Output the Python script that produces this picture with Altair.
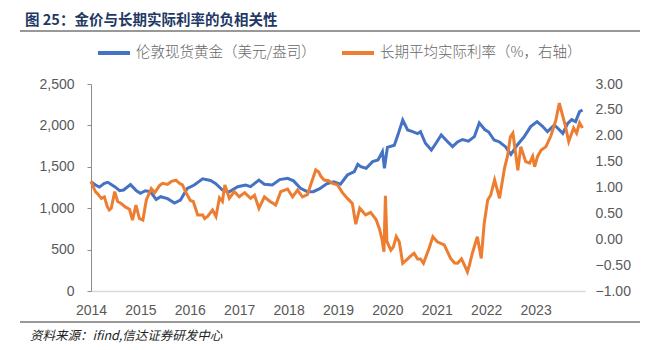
import altair as alt
import pandas as pd

# ---- data ----
gold_t = [2014.00, 2014.09, 2014.17, 2014.27, 2014.34, 2014.48, 2014.58, 2014.66, 2014.80, 2014.92,
          2015.00, 2015.10, 2015.20, 2015.32, 2015.41, 2015.55, 2015.69, 2015.81, 2015.95,
          2016.09, 2016.26, 2016.42, 2016.52, 2016.66, 2016.79, 2016.97,
          2017.13, 2017.23, 2017.40, 2017.51, 2017.67, 2017.82, 2017.98,
          2018.10, 2018.24, 2018.38, 2018.50, 2018.63, 2018.77, 2018.91,
          2019.05, 2019.19, 2019.33, 2019.40, 2019.46, 2019.57, 2019.70, 2019.81, 2019.90, 2019.94,
          2020.00, 2020.14, 2020.21, 2020.31, 2020.41, 2020.51, 2020.61, 2020.67, 2020.77, 2020.89, 2020.99,
          2021.09, 2021.22, 2021.32, 2021.42, 2021.52, 2021.64, 2021.76, 2021.86, 2021.97,
          2022.05, 2022.16, 2022.27, 2022.39, 2022.50, 2022.63, 2022.77, 2022.90,
          2023.03, 2023.14, 2023.24, 2023.38, 2023.46, 2023.55, 2023.65, 2023.73, 2023.81, 2023.89, 2023.95]
gold_v = [1320, 1280, 1255, 1300, 1313, 1260, 1211, 1220, 1285, 1210,
          1180, 1211, 1200, 1105, 1139, 1115, 1062, 1099, 1240,
          1280, 1355, 1335, 1300, 1220, 1195, 1260,
          1280, 1260, 1340, 1290, 1280, 1345, 1361,
          1330, 1240, 1200, 1200, 1235, 1295, 1320,
          1290, 1401, 1441, 1530, 1501, 1482, 1562, 1582, 1682, 1482,
          1735, 1760, 1880, 2065, 1944, 1924, 1900, 1924, 1784, 1703, 1790,
          1884, 1803, 1743, 1800, 1830, 1810, 1864, 2030, 1950,
          1920, 1824, 1800, 1743, 1650, 1763, 1864, 1985,
          2045, 1990, 1924, 2005, 1960, 1904, 2025, 2070, 2045, 2166, 2186]

rate_t = [2014.00, 2014.05, 2014.09, 2014.15, 2014.21, 2014.27, 2014.33, 2014.37, 2014.41, 2014.48,
          2014.54, 2014.61, 2014.70, 2014.78, 2014.84, 2014.91, 2014.98,
          2015.05, 2015.12, 2015.22, 2015.29, 2015.39, 2015.45, 2015.55, 2015.63, 2015.72, 2015.79, 2015.85, 2015.93,
          2016.01, 2016.07, 2016.16, 2016.26, 2016.30, 2016.36, 2016.46, 2016.53, 2016.60, 2016.66, 2016.71, 2016.80, 2016.90,
          2017.00, 2017.11, 2017.23, 2017.31, 2017.40, 2017.51, 2017.61, 2017.74, 2017.84, 2017.98,
          2018.08, 2018.18, 2018.28, 2018.38, 2018.48, 2018.55, 2018.61, 2018.65, 2018.72, 2018.81, 2018.89, 2018.99,
          2019.09, 2019.19, 2019.29, 2019.36, 2019.44, 2019.56, 2019.66, 2019.77, 2019.84, 2019.89, 2019.93, 2019.96, 2019.99,
          2020.07, 2020.12, 2020.18, 2020.24, 2020.31, 2020.41, 2020.45, 2020.54, 2020.61, 2020.67, 2020.73, 2020.85, 2020.92,
          2021.01, 2021.15, 2021.22, 2021.28, 2021.36, 2021.42, 2021.50, 2021.56, 2021.62, 2021.66, 2021.72, 2021.82, 2021.90, 2021.96,
          2022.03, 2022.09, 2022.17, 2022.27, 2022.37, 2022.43, 2022.49, 2022.54, 2022.59, 2022.64, 2022.70, 2022.80, 2022.88, 2022.94, 2022.98,
          2023.04, 2023.11, 2023.21, 2023.31, 2023.41, 2023.48, 2023.53, 2023.60, 2023.67, 2023.73, 2023.77, 2023.83, 2023.89, 2023.95]
rate_v = [1.12, 1.00, 0.92, 0.86, 0.79, 0.82, 0.63, 0.565, 0.60, 0.92,
          0.73, 0.69, 0.62, 0.58, 0.37, 0.66, 0.40,
          0.37, 0.76, 0.98, 0.90, 1.04, 1.08, 1.06, 1.12, 1.14, 1.08, 1.05, 0.89,
          0.75, 0.73, 0.47, 0.47, 0.40, 0.44, 0.565, 0.44, 0.80, 0.73, 1.05, 0.79, 0.92,
          0.82, 0.90, 0.79, 0.85, 0.60, 0.82, 0.74, 0.66, 0.92, 0.97,
          0.82, 0.95, 0.82, 0.86, 1.145, 1.34, 1.30, 1.22, 1.145, 1.13, 1.08, 1.05,
          0.90, 0.79, 0.69, 0.29, 0.60, 0.47, 0.52, 0.38, 0.20, 0.00, -0.24, 0.84, -0.04,
          -0.21, -0.15, 0.05, -0.05, -0.465, -0.38, -0.34, -0.27, -0.38, -0.38, -0.465, -0.16, 0.05,
          -0.05, -0.11, -0.25, -0.37, -0.46, -0.465, -0.38, -0.50, -0.63, -0.50, -0.27, 0.05, -0.37, 0.31,
          0.76, 0.85, 1.145, 0.79, 1.37, 1.60, 1.98, 2.05, 1.70, 1.33, 1.79, 1.50, 1.47, 1.60, 1.40,
          1.60, 1.72, 1.79, 2.00, 2.30, 2.63, 2.45, 2.20, 1.89, 2.05, 2.15, 2.05, 2.25, 2.15]

GOLD = "伦敦现货黄金（美元/盎司）"
RATE = "长期平均实际利率（%，右轴）"
TITLE = "图 25：金价与长期实际利率的负相关性"
SOURCE = "资料来源：ifind,信达证券研发中心"
x_ticks = [2014, 2015, 2016, 2017, 2018, 2019, 2020, 2021, 2022, 2023]
gold_ticks = [0, 500, 1000, 1500, 2000, 2500]
rate_ticks = [-1.0, -0.5, 0.0, 0.5, 1.0, 1.5, 2.0, 2.5, 3.0]

gold_df = pd.DataFrame({"t": gold_t, "v": gold_v, "s": GOLD})
rate_df = pd.DataFrame({"t": rate_t, "v": rate_v, "s": RATE})
one = pd.DataFrame({"k": [0]})

LATIN = "Liberation Sans"
CJK = "Noto Sans CJK SC"
GREY = "#595959"

color = alt.Color(
    "s:N",
    scale=alt.Scale(domain=[GOLD, RATE], range=["#4472C4", "#ED7D31"]),
    legend=alt.Legend(
        title=None, orient="none", legendX=5, legendY=-49, direction="horizontal",
        symbolType="stroke", symbolSize=1024, symbolStrokeWidth=4,
        labelFont=CJK, labelFontSize=14.5, labelFontWeight=300, labelColor="#666666",
        labelOffset=4, columnPadding=18, padding=0, labelLimit=400,
    ),
)

x = alt.X(
    "t:Q",
    scale=alt.Scale(domain=[2014, 2024], nice=False, zero=False),
    axis=alt.Axis(
        values=x_ticks, format="d", title=None, grid=False, ticks=False,
        domainColor="#D9D9D9", domainWidth=1.5, labelFlush=False, labelOverlap=False,
        labelPadding=12, labelFont=LATIN, labelFontSize=14, labelColor=GREY,
    ),
)

gold = alt.Chart(gold_df).mark_line(strokeWidth=3).encode(
    x=x,
    y=alt.Y(
        "v:Q",
        scale=alt.Scale(domain=[0, 2500], nice=False),
        axis=alt.Axis(
            values=gold_ticks, format=",.0f", orient="left", title=None, grid=False,
            domainColor="#8C8C8C", tickColor="#8C8C8C", tickSize=4, labelPadding=13,
            labelFont=LATIN, labelFontSize=14, labelColor=GREY,
        ),
    ),
    color=color,
)

rate = alt.Chart(rate_df).mark_line(strokeWidth=3).encode(
    x=x,
    y=alt.Y(
        "v:Q",
        scale=alt.Scale(domain=[-1, 3], nice=False, zero=False),
        axis=alt.Axis(
            values=rate_ticks, format=".2f", orient="right", title=None, grid=False,
            domain=False, ticks=False, labelPadding=10,
            labelFont=LATIN, labelFontSize=14, labelColor=GREY,
        ),
    ),
    color=color,
)

title = alt.Chart(one).mark_text(
    align="left", baseline="middle", font=CJK, fontWeight="bold", fontSize=14.5, color="#1F3864"
).encode(x=alt.value(-66), y=alt.value(-63), text=alt.value(TITLE))

source = alt.Chart(one).mark_text(
    align="left", baseline="middle", font=CJK, fontStyle="italic", fontSize=12.5, color="#222222"
).encode(x=alt.value(-61), y=alt.value(252), text=alt.value(SOURCE))

top_rule = alt.Chart(one).mark_rule(color="#333333", strokeWidth=1).encode(
    x=alt.value(-71), x2=alt.value(549), y=alt.value(-53)
)
bottom_rule = alt.Chart(one).mark_rule(color="#333333", strokeWidth=1).encode(
    x=alt.value(-71), x2=alt.value(549), y=alt.value(238)
)

chart = alt.layer(gold, rate, title, source, top_rule, bottom_rule).resolve_scale(
    y="independent"
).properties(
    width=494, height=207,
    autosize=alt.AutoSizeParams(type="none"),
    padding={"left": 91, "top": 84, "right": 67, "bottom": 59},
).configure_view(stroke=None)

chart.save("out.html", embed_options={"renderer": "svg", "actions": False})
